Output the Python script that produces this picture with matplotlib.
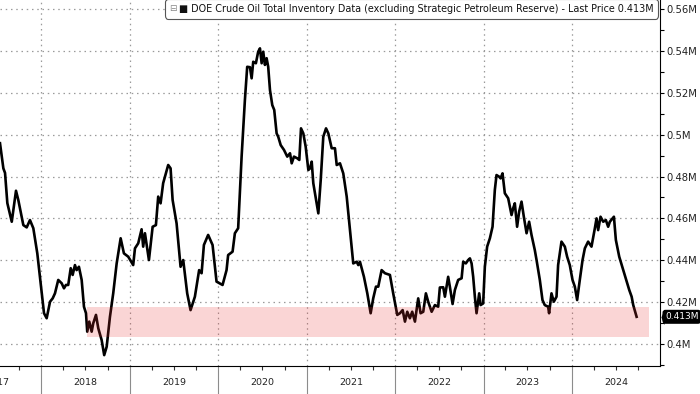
import pandas as pd
import matplotlib
matplotlib.use("Agg")
import matplotlib.pyplot as plt
import matplotlib.dates as mdates
import matplotlib.ticker as mticker
import matplotlib.transforms as mtrans
from matplotlib.offsetbox import TextArea, HPacker, AnchoredOffsetbox

# weekly crude inventory ex-SPR (decimal year, value in M)
years = [2017.531, 2017.569, 2017.588, 2017.614, 2017.664, 2017.712, 2017.738, 2017.795, 2017.833, 2017.870,
         2017.908, 2017.953, 2018.003, 2018.029, 2018.059, 2018.097, 2018.127, 2018.153, 2018.190, 2018.229,
         2018.255, 2018.277, 2018.303, 2018.331, 2018.353, 2018.379, 2018.398, 2018.424, 2018.455, 2018.481,
         2018.504, 2018.518, 2018.541, 2018.568, 2018.586, 2018.617, 2018.643, 2018.681, 2018.710, 2018.738,
         2018.775, 2018.812, 2018.851, 2018.896, 2018.933, 2018.982, 2019.038, 2019.058, 2019.095, 2019.133,
         2019.151, 2019.171, 2019.216, 2019.258, 2019.295, 2019.321, 2019.348, 2019.377, 2019.434, 2019.461,
         2019.484, 2019.529, 2019.574, 2019.604, 2019.649, 2019.687, 2019.736, 2019.784, 2019.812, 2019.838,
         2019.886, 2019.936, 2019.981, 2020.049, 2020.094, 2020.112, 2020.162, 2020.188, 2020.225, 2020.264,
         2020.301, 2020.327, 2020.358, 2020.377, 2020.395, 2020.425, 2020.451, 2020.471, 2020.490, 2020.508,
         2020.527, 2020.546, 2020.564, 2020.584, 2020.610, 2020.632, 2020.659, 2020.677, 2020.705, 2020.742,
         2020.779, 2020.810, 2020.829, 2020.855, 2020.892, 2020.915, 2020.934, 2020.960, 2020.987, 2021.017,
         2021.036, 2021.055, 2021.073, 2021.104, 2021.130, 2021.157, 2021.186, 2021.217, 2021.243, 2021.281,
         2021.318, 2021.338, 2021.375, 2021.412, 2021.451, 2021.488, 2021.525, 2021.564, 2021.582, 2021.601,
         2021.646, 2021.684, 2021.722, 2021.751, 2021.782, 2021.808, 2021.846, 2021.884, 2021.940, 2021.977,
         2022.023, 2022.053, 2022.084, 2022.110, 2022.136, 2022.166, 2022.192, 2022.223, 2022.260, 2022.287,
         2022.317, 2022.347, 2022.373, 2022.412, 2022.449, 2022.486, 2022.505, 2022.543, 2022.562, 2022.599,
         2022.618, 2022.649, 2022.675, 2022.712, 2022.751, 2022.769, 2022.799, 2022.825, 2022.845, 2022.864,
         2022.882, 2022.901, 2022.920, 2022.950, 2022.966, 2022.995, 2023.014, 2023.040, 2023.071, 2023.101,
         2023.127, 2023.146, 2023.176, 2023.192, 2023.214, 2023.240, 2023.278, 2023.316, 2023.334, 2023.353,
         2023.379, 2023.402, 2023.429, 2023.455, 2023.486, 2023.515, 2023.542, 2023.579, 2023.599, 2023.636,
         2023.666, 2023.692, 2023.730, 2023.741, 2023.768, 2023.794, 2023.825, 2023.843, 2023.881, 2023.919,
         2023.945, 2023.975, 2024.006, 2024.032, 2024.058, 2024.088, 2024.119, 2024.145, 2024.182, 2024.220,
         2024.258, 2024.277, 2024.295, 2024.322, 2024.352, 2024.382, 2024.408, 2024.427, 2024.458, 2024.473,
         2024.495, 2024.533, 2024.578, 2024.616, 2024.646, 2024.673, 2024.691, 2024.729]

values = [0.4959, 0.4839, 0.4817, 0.4673, 0.4584, 0.4732, 0.4688, 0.4568, 0.4557, 0.4592,
          0.4553, 0.4433, 0.4242, 0.4147, 0.4123, 0.4202, 0.4218, 0.4242, 0.4306, 0.4290,
          0.4266, 0.4282, 0.4282, 0.4362, 0.4330, 0.4377, 0.4353, 0.4369, 0.4306, 0.4178,
          0.4147, 0.4059, 0.4107, 0.4059, 0.4099, 0.4139, 0.4075, 0.4019, 0.3947, 0.3987,
          0.4130, 0.4242, 0.4385, 0.4505, 0.4433, 0.4417, 0.4377, 0.4457, 0.4481, 0.4548,
          0.4465, 0.4529, 0.4401, 0.4560, 0.4568, 0.4704, 0.4672, 0.4768, 0.4855, 0.4839,
          0.4688, 0.4576, 0.4369, 0.4401, 0.4242, 0.4162, 0.4226, 0.4353, 0.4338, 0.4473,
          0.4521, 0.4473, 0.4298, 0.4282, 0.4353, 0.4425, 0.4441, 0.4529, 0.4553, 0.4895,
          0.5165, 0.5324, 0.5322, 0.5269, 0.5348, 0.5341, 0.5396, 0.5412, 0.5341, 0.5396,
          0.5333, 0.5365, 0.5324, 0.5213, 0.5141, 0.5118, 0.5006, 0.4990, 0.4950, 0.4927,
          0.4895, 0.4911, 0.4863, 0.4895, 0.4887, 0.4879, 0.5030, 0.5006, 0.4942, 0.4831,
          0.4839, 0.4871, 0.4768, 0.4688, 0.4624, 0.4783, 0.4990, 0.5030, 0.5006, 0.4935,
          0.4935, 0.4855, 0.4863, 0.4815, 0.4704, 0.4544, 0.4385, 0.4393, 0.4377, 0.4393,
          0.4321, 0.4242, 0.4147, 0.4218, 0.4274, 0.4274, 0.4353, 0.4338, 0.4330, 0.4242,
          0.4139, 0.4147, 0.4162, 0.4107, 0.4154, 0.4123, 0.4154, 0.4107, 0.4218, 0.4147,
          0.4154, 0.4242, 0.4202, 0.4154, 0.4186, 0.4178, 0.4270, 0.4271, 0.4226, 0.4321,
          0.4274, 0.4191, 0.4258, 0.4306, 0.4314, 0.4393, 0.4385, 0.4401, 0.4409, 0.4385,
          0.4321, 0.4226, 0.4147, 0.4242, 0.4186, 0.4194, 0.4369, 0.4465, 0.4505, 0.4560,
          0.4736, 0.4807, 0.4799, 0.4791, 0.4815, 0.4720, 0.4696, 0.4616, 0.4648, 0.4672,
          0.4560, 0.4632, 0.4680, 0.4608, 0.4529, 0.4584, 0.4521, 0.4449, 0.4401, 0.4306,
          0.4210, 0.4186, 0.4178, 0.4147, 0.4242, 0.4202, 0.4226, 0.4377, 0.4489, 0.4465,
          0.4417, 0.4377, 0.4306, 0.4274, 0.4210, 0.4306, 0.4401, 0.4457, 0.4489, 0.4465,
          0.4553, 0.4600, 0.4544, 0.4608, 0.4584, 0.4592, 0.4560, 0.4584, 0.4600, 0.4608,
          0.4497, 0.4417, 0.4353, 0.4298, 0.4258, 0.4226, 0.4186, 0.4130]

# shaded band
band_start, band_end = 2018.515, 2024.868
band_low, band_high = 0.4033, 0.4177

year_labels = [2017, 2018, 2019, 2020, 2021, 2022, 2023, 2024]
last_price = values[-1]
title = "DOE Crude Oil Total Inventory Data (excluding Strategic Petroleum Reserve) - Last Price %gM" % last_price


def to_date(y):
    yr = int(y)
    start = pd.Timestamp(yr, 1, 1)
    return start + (y - yr) * (pd.Timestamp(yr + 1, 1, 1) - start)


dates = [to_date(y) for y in years]

plt.rcParams["font.family"] = ["DejaVu Sans"]
fig = plt.figure(figsize=(7, 3.94), dpi=100)
ax = fig.add_axes([0, 28 / 394, 660 / 700, 366 / 394])

ax.plot(dates, values, color="black", lw=1.9, zorder=2, solid_joinstyle="round")
ax.fill_between([to_date(band_start), to_date(band_end)], band_low, band_high,
                color="#e83030", alpha=0.2, lw=0, zorder=3)

ax.set_xlim(to_date(2017.531), to_date(2024.993))
ax.set_ylim(0.3895, 0.5643)

# x axis: year boundaries as long gray ticks, quarter ticks, labels mid-year
ax.xaxis.set_major_locator(mdates.YearLocator())
ax.xaxis.set_major_formatter(mticker.NullFormatter())
ax.xaxis.set_minor_locator(mdates.MonthLocator(bymonth=[4, 7, 10]))
ax.tick_params(axis="x", which="major", length=21, width=0.8, color="#8c8c8c")
ax.tick_params(axis="x", which="minor", length=3, width=0.8, color="#333333")
for yr in year_labels:
    ax.text(to_date(yr + 0.5), -0.044, str(yr), transform=ax.get_xaxis_transform(),
            ha="center", va="center", fontsize=6.8, color="#222222")

# y axis on the right
ax.yaxis.tick_right()
ax.yaxis.set_major_locator(mticker.MultipleLocator(0.02))
ax.yaxis.set_minor_locator(mticker.MultipleLocator(0.01))
ax.yaxis.set_major_formatter(mticker.FuncFormatter(lambda v, p: "%gM" % round(v, 3)))
ax.tick_params(axis="y", which="both", length=3, width=0.8, pad=1.5, labelsize=7.2,
               color="black", labelcolor="#222222")

ax.grid(True, which="major", color="#9a9a9a", linestyle=(0, (1.2, 3)), lw=0.9)
ax.set_axisbelow(True)
for s in ["top", "left"]:
    ax.spines[s].set_visible(False)
for s in ["right", "bottom"]:
    ax.spines[s].set_linewidth(0.8)

# legend box: small gray icon + black square + series name
icon = TextArea("\u229f", textprops=dict(fontsize=6.5, color="#888888"))
lab = TextArea("\u25a0 " + title, textprops=dict(fontsize=6.9, color="#111111"))
row = HPacker(children=[icon, lab], align="center", pad=0, sep=1)
leg = AnchoredOffsetbox(loc="upper right", child=row, pad=0.35, borderpad=0, frameon=True,
                        bbox_to_anchor=(658 / 660, 1 + 1 / 366), bbox_transform=ax.transAxes)
leg.patch.set_boxstyle("round,pad=0,rounding_size=0.25")
leg.patch.set_facecolor("white")
leg.patch.set_edgecolor("#555555")
leg.patch.set_linewidth(0.8)
leg.set_zorder(6)
ax.add_artist(leg)

# last price tag
trans = mtrans.blended_transform_factory(ax.transAxes, ax.transData)
ax.annotate("%gM" % last_price, xy=(1, last_price), xycoords=trans,
            xytext=(5, 0), textcoords="offset pixels", ha="left", va="center",
            fontsize=6.5, color="white", annotation_clip=False,
            bbox=dict(boxstyle="round,pad=0.2,rounding_size=0.25", fc="black", ec="black"))
tip = mtrans.offset_copy(trans, fig=fig, x=3.5, units="dots")
ax.plot([1], [last_price], transform=tip, marker=[(-1, 0), (0, -2.5), (0, 2.5)],
        ms=11, color="black", mew=0, clip_on=False)

fig.savefig("out.png", dpi=100)
